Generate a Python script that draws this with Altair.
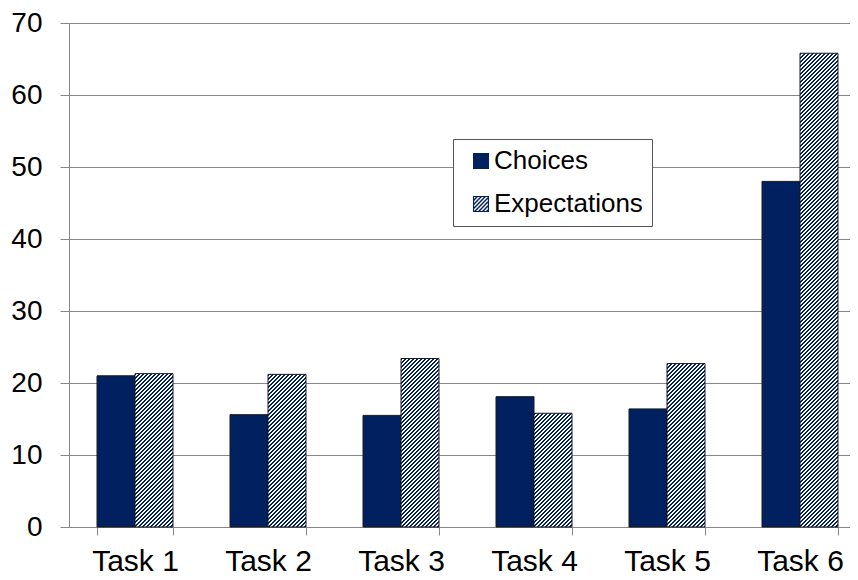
import altair as alt

# ---- data ----
tasks = ["Task 1", "Task 2", "Task 3", "Task 4", "Task 5", "Task 6"]
series_names = ["Choices", "Expectations"]
choices = [21.0, 15.6, 15.5, 18.1, 16.4, 48.0]
expectations = [21.3, 21.2, 23.4, 15.8, 22.7, 65.8]
y_ticks = [0, 10, 20, 30, 40, 50, 60, 70]

# ---- layout / style ----
PLOT_W, PLOT_H = 781, 504
Y_MAX = 70
STEP = 133.0
PAD_INNER = 57.0 / STEP
PAD_OUTER = (PLOT_W - STEP * (len(tasks) - PAD_INNER)) / (2 * STEP)
ALIGN = 0.7
NAVY = "#002060"
GRID = "#868686"
FONT = "Liberation Sans"

bar_w = STEP * (1 - PAD_INNER) / 2
px_per_unit = PLOT_H / Y_MAX


def hatch_fill(value, period=4.0):
    """Linear gradient (bbox units) that draws 45-degree '/' stripes."""
    w = bar_w
    h = value * px_per_unit
    dt = period * w / (w * w + h * h)
    n = int((w + h) / period) + 2
    stops = []
    for k in range(n):
        a, b, c = k * dt, (k + 0.5) * dt, (k + 1) * dt
        if a > 1:
            break
        stops += [
            {"offset": min(a, 1), "color": NAVY},
            {"offset": min(b, 1), "color": NAVY},
            {"offset": min(b, 1), "color": "#ffffff"},
            {"offset": min(c, 1), "color": "#ffffff"},
        ]
    return {"gradient": "linear", "x1": 0, "y1": 0, "x2": 1, "y2": h / w, "stops": stops}


records = []
for t, c, e in zip(tasks, choices, expectations):
    records.append({"task": t, "series": "Choices", "value": c, "fillstyle": NAVY})
    records.append({"task": t, "series": "Expectations", "value": e, "fillstyle": hatch_fill(e)})


# hatched square symbol for the legend (unit square -1..1)
def clip(poly, a, b, c):
    out = []
    n = len(poly)
    for i in range(n):
        P, Q = poly[i], poly[(i + 1) % n]
        dp = a * P[0] + b * P[1] - c
        dq = a * Q[0] + b * Q[1] - c
        if dp <= 0:
            out.append(P)
        if (dp <= 0) != (dq <= 0):
            t = dp / (dp - dq)
            out.append((P[0] + t * (Q[0] - P[0]), P[1] + t * (Q[1] - P[1])))
    return out


inner = 0.86
sq = [(-inner, -inner), (inner, -inner), (inner, inner), (-inner, inner)]
parts = ["M-1,-1L1,-1L1,1L-1,1Z",
         "M%.3f,%.3fL%.3f,%.3fL%.3f,%.3fL%.3f,%.3fZ" % (-inner, -inner, -inner, inner, inner, inner, inner, -inner)]
c0 = -2.0
while c0 < 2.0:
    poly = clip(sq, 1, 1, c0 + 0.25)
    poly = clip(poly, -1, -1, -c0)
    if len(poly) >= 3:
        parts.append("M" + "L".join("%.3f,%.3f" % p for p in poly) + "Z")
    c0 += 0.5
hatch_path = "".join(parts)

# ---- axes / legend ----
x_axis = alt.Axis(title=None, labelAngle=0, tickBand="extent", domainColor=GRID, tickColor=GRID,
                  tickSize=8, labelFont=FONT, labelFontSize=30, labelColor="black", labelPadding=11,
                  grid=False)
y_axis = alt.Axis(title=None, values=y_ticks, grid=True, gridColor=GRID, gridWidth=1,
                  domainColor=GRID, tickColor=GRID, tickSize=9, labelFont=FONT, labelFontSize=28,
                  labelColor="black", labelPadding=18)
legend = alt.Legend(title=None, orient="none", legendX=384, legendY=116, direction="vertical",
                    labelFont=FONT, labelFontSize=26, labelColor="black", symbolSize=256,
                    symbolStrokeWidth=0, symbolOpacity=1, strokeColor="#555555", fillColor="white",
                    padding=9, rowPadding=17, symbolOffset=6, labelOffset=0)

x_enc = alt.X("task:N", sort=tasks,
              scale=alt.Scale(paddingInner=PAD_INNER, paddingOuter=PAD_OUTER, align=ALIGN), axis=x_axis)
y_enc = alt.Y("value:Q", scale=alt.Scale(domain=[0, Y_MAX], nice=False), axis=y_axis)

bars = alt.Chart(alt.Data(values=records)).mark_bar(stroke="#1a1a1a", strokeWidth=1).encode(
    x=x_enc,
    xOffset=alt.XOffset("series:N", sort=series_names,
                        scale=alt.Scale(domain=series_names, paddingInner=0, paddingOuter=0)),
    y=y_enc,
    fill=alt.Fill("fillstyle:N", scale=None),
)

legend_layer = alt.Chart(alt.Data(values=[])).mark_point(filled=True, opacity=1).encode(
    x=x_enc,
    y=y_enc,
    fill=alt.Fill("series:N", scale=alt.Scale(domain=series_names, range=[NAVY, NAVY]), legend=legend),
    shape=alt.Shape("series:N", scale=alt.Scale(domain=series_names, range=["square", hatch_path]), legend=legend),
)

chart = alt.layer(bars, legend_layer).properties(
    width=PLOT_W, height=PLOT_H,
    autosize=alt.AutoSizeParams(type="none"),
    padding={"left": 61, "top": 15, "right": 0, "bottom": 53},
).configure_view(stroke="transparent")

chart.save("out.html", embed_options={"renderer": "svg", "actions": False})
